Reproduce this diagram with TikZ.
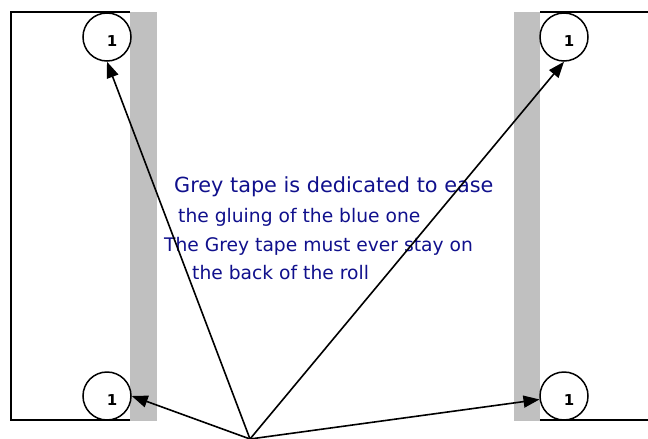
\documentclass[tikz,border=0pt]{standalone}
\usepackage{fontspec}
\setmainfont{DejaVu Sans}
\usepackage{xcolor}
\usetikzlibrary{arrows.meta}
\definecolor{tapegrey}{RGB}{192,192,192}
\definecolor{notenavy}{RGB}{16,16,140}

\begin{document}
\begin{tikzpicture}[x=1pt,y=1pt,yscale=-1,
    edge/.style={line width=1.5pt},
    marker/.style={circle,draw,line width=1.5pt,minimum size=48pt,inner sep=0pt},
    pointer/.style={line width=1.6pt,-{Triangle[length=16pt,width=12pt]}},
    note/.style={anchor=base west,inner sep=0pt,text=notenavy}]
        \useasboundingbox (0,0) rectangle (648,439);

        %Shape: Grey tapes
        \fill [tapegrey] (130,12) rectangle (157,421) ;
        \fill [tapegrey] (514,12) rectangle (540,421) ;

        %Shape: Left roll
        \draw [edge] (130,12) -- (11,12) -- (11,420) -- (130,420) ;
        %Shape: Right roll
        \draw [edge] (540,12) -- (648,12) ;
        \draw [edge] (540,420) -- (648,420) ;

        %Shape: Circles
        \node [marker, label={[xshift=5pt,yshift=-4pt,font=\fontsize{15}{15}\selectfont\bfseries]center:1}] (c1) at (107,37) {};
        \node [marker, label={[xshift=5pt,yshift=-4pt,font=\fontsize{15}{15}\selectfont\bfseries]center:1}] (c2) at (564,37) {};
        \node [marker, label={[xshift=5pt,yshift=-4pt,font=\fontsize{15}{15}\selectfont\bfseries]center:1}] (c3) at (107,396) {};
        \node [marker, label={[xshift=5pt,yshift=-4pt,font=\fontsize{15}{15}\selectfont\bfseries]center:1}] (c4) at (564,396) {};

        % Text Node
        \node [note, font=\fontsize{20.8}{25}\selectfont] (t1) at (174,192) {Grey tape is dedicated to ease};
        \node [note, font=\fontsize{18.7}{22}\selectfont] (t2) at (178,222) {the gluing of the blue one};
        \node [note, font=\fontsize{18.7}{22}\selectfont] (t3) at (164,251) {The Grey tape must ever stay on};
        \node [note, font=\fontsize{18.7}{22}\selectfont] (t4) at (192,279) {the back of the roll};

        %Straight Lines
        \coordinate (src) at (250,439);
        \draw [pointer] (src) -- (c1.south) ;
        \draw [pointer] (src) -- (c2.south) ;
        \draw [pointer] (src) -- (c3.east) ;
        \draw [pointer] (src) -- (c4.188) ;

\end{tikzpicture}
\end{document}
